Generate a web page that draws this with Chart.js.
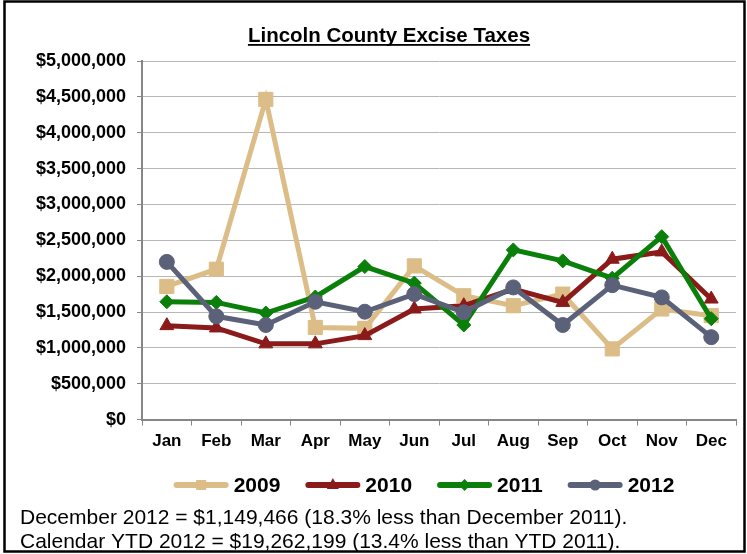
<!DOCTYPE html>
<html>
<head>
<meta charset="utf-8">
<script src="https://cdn.jsdelivr.net/npm/chart.js@4.4.1/dist/chart.umd.min.js"></script>
<style>
  html, body { margin: 0; padding: 0; background: #fff; }
  canvas { display: block; }
</style>
</head>
<body>
<canvas id="excise" width="747" height="554"></canvas>
<script>
// meses y recaudacion mensual por anio
const months = ["Jan", "Feb", "Mar", "Apr", "May", "Jun", "Jul", "Aug", "Sep", "Oct", "Nov", "Dec"];
const years = ["2009", "2010", "2011", "2012"];

const taxes2009 = [1857000, 2097000, 4465000, 1285000, 1272000, 2143000, 1727000, 1588000, 1750000, 986000, 1542000, 1449000];
const taxes2010 = [1310000, 1278000, 1056000, 1056000, 1171000, 1542000, 1588000, 1819000, 1634000, 2236000, 2338000, 1681000];
const taxes2011 = [1643000, 1634000, 1486000, 1710000, 2134000, 1903000, 1319000, 2366000, 2213000, 1972000, 2551000, 1406935];
const taxes2012 = [2199000, 1440000, 1319000, 1643000, 1504000, 1750000, 1496000, 1843000, 1319000, 1875000, 1704000, 1149466];

const yAxisMax = 5000000;
const yAxisStep = 500000;

const titleText = "Lincoln County Excise Taxes";
const footerLines = [
  "December 2012 = $1,149,466 (18.3% less than December 2011).",
  "Calendar YTD 2012 = $19,262,199 (13.4% less than YTD 2011)."
];

// estilos de cada serie
const lineColors = ["#dcbd87", "#8b1a1a", "#0a7f0a", "#5b6178"];
const markerStyles = ["rect", "triangle", "rectRot", "circle"];
const markerSizes = [10, 8, 7, 7.5];

const FONT = "'Liberation Sans', Arial, sans-serif";
const AXIS_GRAY = "#868686";

const seriesValues = [taxes2009, taxes2010, taxes2011, taxes2012];

const datasets = years.map((year, i) => ({
  label: year,
  data: seriesValues[i],
  borderColor: lineColors[i],
  backgroundColor: lineColors[i],
  borderWidth: 5,
  pointStyle: markerStyles[i],
  pointRadius: markerSizes[i],
  pointBorderWidth: 1,
  pointBackgroundColor: lineColors[i],
  pointBorderColor: lineColors[i],
  tension: 0,
  // la ultima serie queda encima
  order: years.length - i
}));

function formatDollars(v) {
  return "$" + Number(v).toLocaleString("en-US");
}

// marcador pequeño para la leyenda
function drawLegendMarker(ctx, style, x, y) {
  ctx.beginPath();
  if (style === "rect") {
    ctx.rect(x - 5, y - 5, 10, 10);
  } else if (style === "triangle") {
    ctx.moveTo(x, y - 7);
    ctx.lineTo(x + 6, y + 4);
    ctx.lineTo(x - 6, y + 4);
    ctx.closePath();
  } else if (style === "rectRot") {
    ctx.moveTo(x, y - 6);
    ctx.lineTo(x + 6, y);
    ctx.lineTo(x, y + 6);
    ctx.lineTo(x - 6, y);
    ctx.closePath();
  } else {
    ctx.arc(x, y, 5.5, 0, Math.PI * 2);
  }
  ctx.fill();
}

// fondo, marco, titulo subrayado, leyenda y notas al pie
const framePlugin = {
  id: "frame",
  beforeDraw(chart) {
    const ctx = chart.ctx;
    ctx.save();
    ctx.fillStyle = "#fff";
    ctx.fillRect(0, 0, chart.width, chart.height);
    ctx.restore();
  },
  afterDraw(chart) {
    const ctx = chart.ctx;
    ctx.save();

    ctx.strokeStyle = "#000";
    ctx.lineWidth = 2.5;
    ctx.strokeRect(4.5, 1.5, 740, 550);

    // titulo
    ctx.font = "bold 20.5px " + FONT;
    ctx.fillStyle = "#000";
    ctx.textAlign = "center";
    ctx.textBaseline = "alphabetic";
    const tw = ctx.measureText(titleText).width;
    ctx.fillText(titleText, 389, 42);
    ctx.fillRect(389 - tw / 2, 44, tw, 1.8);

    // leyenda
    ctx.font = "bold 21px " + FONT;
    ctx.textAlign = "left";
    ctx.textBaseline = "middle";
    const lineLen = 55, gapText = 5, gapItem = 25;
    const items = chart.data.datasets.map(ds => ({ ds, w: ctx.measureText(ds.label).width }));
    const total = items.reduce((s, it) => s + lineLen + gapText + it.w, 0) + gapItem * (items.length - 1);
    let x = 424 - total / 2;
    const ly = 485;
    items.forEach(it => {
      ctx.strokeStyle = it.ds.borderColor;
      ctx.fillStyle = it.ds.borderColor;
      ctx.lineWidth = 6;
      ctx.lineCap = "round";
      ctx.beginPath();
      ctx.moveTo(x + 3, ly);
      ctx.lineTo(x + lineLen - 3, ly);
      ctx.stroke();
      drawLegendMarker(ctx, it.ds.pointStyle, x + lineLen / 2, ly);
      ctx.fillStyle = "#000";
      ctx.fillText(it.ds.label, x + lineLen + gapText, ly + 1);
      x += lineLen + gapText + it.w + gapItem;
    });

    // notas
    ctx.font = "21px " + FONT;
    ctx.textBaseline = "alphabetic";
    ctx.fillText(footerLines[0], 20, 524);
    ctx.fillText(footerLines[1], 20, 548);

    ctx.restore();
  }
};

const myChart = new Chart(document.getElementById("excise"), {
  type: "line",
  data: { labels: months, datasets },
  plugins: [framePlugin],
  options: {
    responsive: false,
    devicePixelRatio: 1,
    animation: false,
    layout: { padding: { left: 25, right: 4, top: 61, bottom: 96 } },
    plugins: {
      legend: { display: false },
      title: { display: false },
      tooltip: { enabled: false }
    },
    scales: {
      x: {
        type: "category",
        offset: true,
        grid: {
          display: true,
          drawOnChartArea: false,
          drawTicks: true,
          tickLength: 6,
          color: AXIS_GRAY,
          offset: true
        },
        border: { display: true, color: AXIS_GRAY, width: 2 },
        ticks: {
          color: "#000",
          font: { family: FONT, weight: "bold", size: 17 },
          padding: 6,
          maxRotation: 0,
          autoSkip: false
        }
      },
      y: {
        min: 0,
        max: yAxisMax,
        grid: {
          color: "#b7b7b7",
          lineWidth: 1,
          drawTicks: true,
          tickLength: 5,
          tickColor: AXIS_GRAY
        },
        border: { display: true, color: AXIS_GRAY, width: 2 },
        ticks: {
          stepSize: yAxisStep,
          color: "#000",
          font: { family: FONT, weight: "bold", size: 18 },
          padding: 11,
          callback: (v) => formatDollars(v)
        }
      }
    }
  }
});
</script>
</body>
</html>
